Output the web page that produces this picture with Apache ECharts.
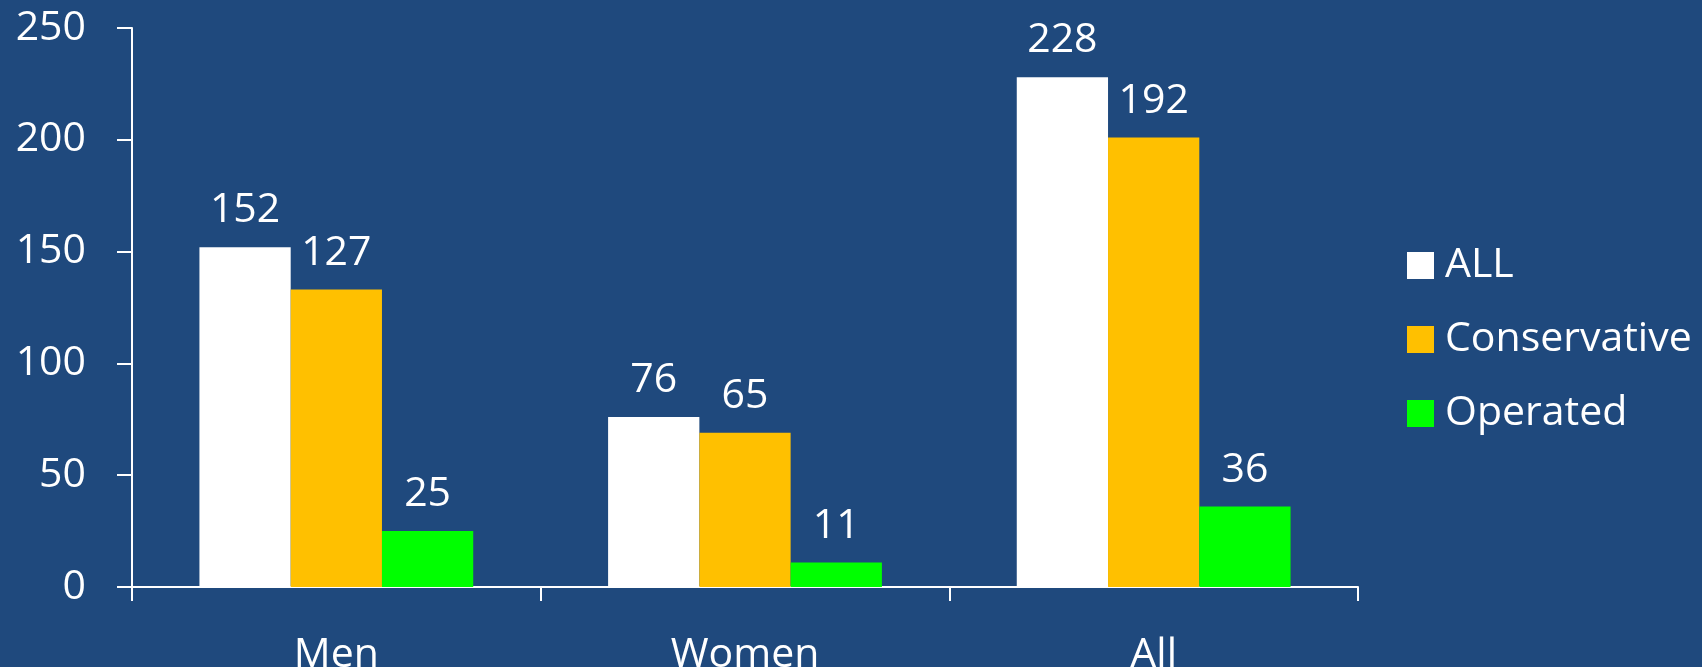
<!DOCTYPE html>
<html>
<head>
<meta charset="utf-8">
<script src="https://cdn.jsdelivr.net/npm/echarts@6/dist/echarts.min.js"></script>
<style>
html,body{margin:0;padding:0;background:#1F497D;}
#chart{width:1702px;height:667px;}
</style>
</head>
<body>
<div id="chart"></div>
<script>
const categories = ['Men', 'Women', 'All'];
const seriesNames = ['ALL', 'Conservative', 'Operated'];
const allValues = [152, 76, 228];
const conservativeValues = [133, 69, 201];
const conservativeLabels = [127, 65, 192];
const operatedValues = [25, 11, 36];
const yTicks = [0, 50, 100, 150, 200, 250];

const FONT = 'Open Sans';
const FS = 41;
const chart = echarts.init(document.getElementById('chart'));

function labelCfg(labels) {
  return {
    show: true,
    position: 'top',
    distance: 16,
    color: '#FFFFFF',
    fontFamily: FONT,
    fontSize: FS,
    formatter: p => String(labels[p.dataIndex])
  };
}

chart.setOption({
  backgroundColor: '#1F497D',
  animation: false,
  grid: { left: 132, right: 344, top: 28, bottom: 80, containLabel: false, outerBoundsMode: 'none' },
  legend: {
    orient: 'vertical',
    left: 1407,
    top: 245,
    padding: 0,
    icon: 'rect',
    itemWidth: 27,
    itemHeight: 27,
    itemGap: 33,
    textStyle: { color: '#FFFFFF', fontFamily: FONT, fontSize: FS, padding: [0, 0, 0, 6] },
    data: seriesNames
  },
  xAxis: {
    type: 'category',
    data: categories,
    axisLine: { show: true, lineStyle: { color: '#FFFFFF', width: 2 } },
    axisTick: { show: true, length: 14, lineStyle: { color: '#FFFFFF', width: 2 } },
    axisLabel: { color: '#FFFFFF', fontFamily: FONT, fontSize: FS, margin: 48 },
    splitLine: { show: false }
  },
  yAxis: {
    type: 'value',
    min: yTicks[0],
    max: yTicks[yTicks.length - 1],
    interval: 50,
    axisLine: { show: true, lineStyle: { color: '#FFFFFF', width: 2 } },
    axisTick: { show: true, length: 15, lineStyle: { color: '#FFFFFF', width: 2 } },
    axisLabel: { color: '#FFFFFF', fontFamily: FONT, fontSize: FS, margin: 46 },
    splitLine: { show: false }
  },
  series: [
    {
      name: seriesNames[0], type: 'bar', data: allValues,
      itemStyle: { color: '#FFFFFF' },
      barGap: '0%', barCategoryGap: '33%',
      label: labelCfg(allValues)
    },
    {
      name: seriesNames[1], type: 'bar', data: conservativeValues,
      itemStyle: { color: '#FFC000' },
      barGap: '0%', barCategoryGap: '33%',
      label: labelCfg(conservativeLabels)
    },
    {
      name: seriesNames[2], type: 'bar', data: operatedValues,
      itemStyle: { color: '#00FF00' },
      barGap: '0%', barCategoryGap: '33%',
      label: labelCfg(operatedValues)
    }
  ]
});
</script>
</body>
</html>
